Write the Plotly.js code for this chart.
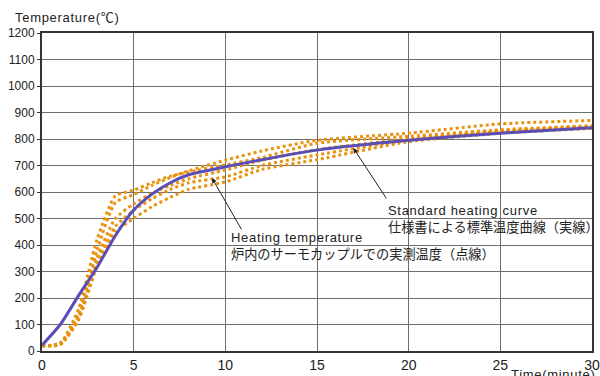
<!DOCTYPE html>
<html>
<head>
<meta charset="utf-8">
<script src="https://cdn.plot.ly/plotly-3.0.1.min.js"></script>
<style>
html,body{margin:0;padding:0;background:#fff;}
#chart{width:600px;height:376px;}
.annotation-text{letter-spacing:0.7px;}
</style>
</head>
<body>
<div id="chart"></div>
<script>
// Time (minutes)
var times = [0, 1, 2, 3, 4, 5, 6, 7, 8, 10, 12, 15, 20, 25, 30];

// Standard heating curve (solid)
var standardCurve = [22, 100, 210, 315, 435, 532, 592, 635, 665, 695, 722, 758, 795, 822, 842];

// Measured furnace thermocouple temperatures (dotted)
var measured1 = [20, 30, 140, 380, 560, 590, 625, 655, 680, 720, 755, 795, 822, 857, 870];
var measured2 = [20, 30, 160, 420, 585, 607, 635, 660, 675, 702, 730, 784, 810, 835, 850];
var measured3 = [20, 25, 130, 350, 500, 555, 595, 625, 650, 683, 720, 760, 800, 830, 848];
var measured4 = [20, 25, 120, 330, 470, 530, 575, 610, 635, 657, 700, 740, 796, 828, 845];
var measured5 = [20, 25, 120, 320, 450, 500, 545, 580, 610, 638, 685, 722, 790, 822, 840];
var measuredSeries = [measured1, measured2, measured3, measured4, measured5];

// Tick labels
var xTicks = [0, 5, 10, 15, 20, 25, 30];
var yTicks = [0, 100, 200, 300, 400, 500, 600, 700, 800, 900, 1000, 1100, 1200];

var FONT = 'Liberation Sans, Arial, Noto Sans CJK JP, sans-serif';
var ORANGE = '#e8920e';
var BLUE = '#5a4db5';
var JP = '<span style="font-family:\'Noto Sans CJK JP\';font-size:13.2px;letter-spacing:0px">';

var traces = [];
measuredSeries.forEach(function (s) {
  traces.push({
    x: times, y: s, type: 'scatter', mode: 'lines',
    line: {color: ORANGE, width: 3, dash: 'dot', shape: 'spline', smoothing: 0.6},
    hoverinfo: 'skip', showlegend: false
  });
});
traces.push({
  x: times, y: standardCurve, type: 'scatter', mode: 'lines',
  line: {color: BLUE, width: 3, shape: 'spline', smoothing: 0.6},
  hoverinfo: 'skip', showlegend: false
});

var layout = {
  width: 600, height: 376,
  margin: {l: 42, r: 8, t: 33, b: 25},
  paper_bgcolor: '#fff', plot_bgcolor: '#fff',
  font: {family: FONT, color: '#222'},
  showlegend: false,
  xaxis: {
    range: [0, 30], tickvals: xTicks, ticktext: xTicks.map(String),
    showgrid: true, gridcolor: '#6e6e6e', gridwidth: 1,
    showline: true, linecolor: '#333', linewidth: 2, mirror: true,
    ticks: '', zeroline: false, tickfont: {size: 14, family: FONT, color: '#222'}
  },
  yaxis: {
    range: [0, 1200], tickvals: yTicks, ticktext: yTicks.map(String),
    showgrid: true, gridcolor: '#6e6e6e', gridwidth: 1,
    showline: true, linecolor: '#333', linewidth: 2, mirror: true,
    ticks: 'outside', ticklen: 3, tickcolor: '#333',
    zeroline: false, tickfont: {size: 12, family: FONT, color: '#222'}
  },
  annotations: [
    {xref: 'paper', yref: 'paper', x: -0.052, y: 1.05, xanchor: 'left', yanchor: 'middle',
     text: 'Temperature(℃)', showarrow: false, font: {size: 13, family: FONT, color: '#222'}},
    {xref: 'paper', yref: 'paper', x: 0.929, y: -0.043, xanchor: 'center', yanchor: 'top',
     text: 'Time(minute)', showarrow: false, font: {size: 13, family: FONT, color: '#222'}},
    // arrows
    {xref: 'x', yref: 'y', axref: 'x', ayref: 'y', x: 9.27, y: 653, ax: 10.93, ay: 453,
     text: '', showarrow: true, arrowhead: 2, arrowsize: 1, arrowwidth: 1, arrowcolor: '#222'},
    {xref: 'x', yref: 'y', axref: 'x', ayref: 'y', x: 16.98, y: 766, ax: 18.84, ay: 570,
     text: '', showarrow: true, arrowhead: 2, arrowsize: 1, arrowwidth: 1, arrowcolor: '#222'},
    // labels
    {xref: 'x', yref: 'y', x: 10.2, y: 394, xanchor: 'left', yanchor: 'middle', align: 'left',
     text: 'Heating temperature<br>' + JP + '炉内のサーモカップルでの実測温度（点線）</span>', showarrow: false,
     font: {size: 13, family: FONT, color: '#222'}},
    {xref: 'x', yref: 'y', x: 18.75, y: 498, xanchor: 'left', yanchor: 'middle', align: 'left',
     text: 'Standard heating curve<br>' + JP + '仕様書による標準温度曲線（実線）</span>', showarrow: false,
     font: {size: 13, family: FONT, color: '#222'}}
  ]
};

Plotly.newPlot('chart', traces, layout, {staticPlot: true, displayModeBar: false});
</script>
</body>
</html>
